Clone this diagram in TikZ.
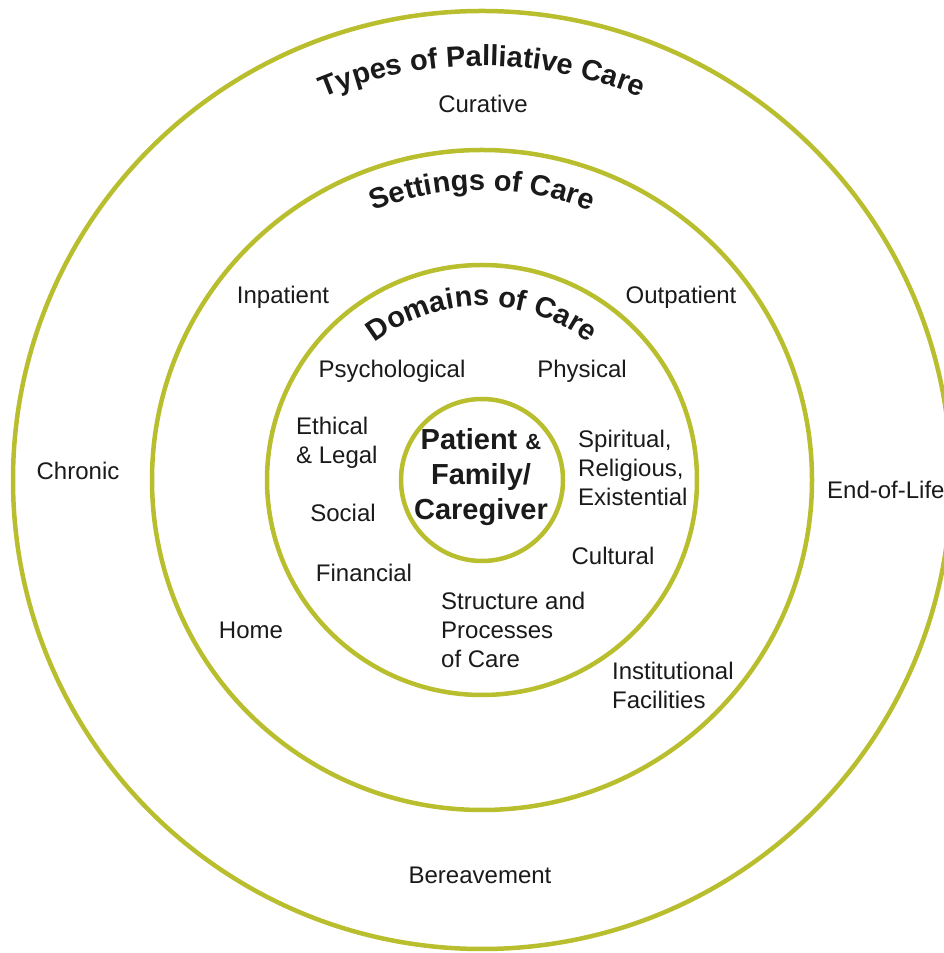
\documentclass[tikz,border=0pt]{standalone}
\usepackage{fontspec}
\setmainfont{Liberation Sans}
\usetikzlibrary{decorations.text}
\definecolor{ringcol}{RGB}{184,190,46}
\definecolor{ink}{RGB}{26,26,26}
\newcommand\mytitlefont{\bfseries\fontsize{29}{31}\selectfont}
\begin{document}
\begin{tikzpicture}[x=1pt,y=1pt,
  ringc/.style={circle, draw=ringcol, line width=4.5pt, inner sep=0pt},
  lbl/.style={text=ink, font=\fontsize{24}{29}\selectfont, inner sep=0pt},
  lbll/.style={lbl, align=left, anchor=west},
  lblc/.style={lbl, align=center},
  arctitle/.style={decorate, decoration={text along path, text align=center, text color=ink, text={|\mytitlefont|#1}}}
]
\useasboundingbox (0,0) rectangle (943,953);
\coordinate (c) at (482,473);
\node[ringc, minimum size=938pt] (outer) at (c) {};
\node[ringc, minimum size=660pt] (settings) at (c) {};
\node[ringc, minimum size=430pt] (domains) at (c) {};
\node[ringc, minimum size=162pt] (core) at (c) {};

% curved titles
\path[arctitle={Types of Palliative Care}] ([shift={(170:414)}]c) arc[start angle=170, end angle=10, radius=414];
\path[arctitle={Settings of Care}] ([shift={(170:290)}]c) arc[start angle=170, end angle=10, radius=290];
\path[arctitle={Domains of Care}] ([shift={(170:174)}]c) arc[start angle=170, end angle=10, radius=174];

% centre
\node[text=ink, align=center, inner sep=0pt, font=\bfseries\fontsize{29}{35}\selectfont] (pf) at (481,476)
  {Patient {\fontsize{22}{35}\selectfont\&}\\Family/\\Caregiver};

% outer ring labels
\node[lblc] (curative) at (483,849) {Curative};
\node[lblc] (chronic) at (78,482) {Chronic};
\node[lbll] (eol) at (827,463) {End-of-Life};
\node[lblc] (bereave) at (480,78) {Bereavement};

% settings ring labels
\node[lblc] (inpat) at (283,656) {Inpatient};
\node[lblc] (outpat) at (681,656) {Outpatient};
\node[lblc] (home) at (251,323) {Home};
\node[lbll] (inst) at (612,268) {Institutional\\Facilities};

% domains labels
\node[lblc] (psych) at (392,582) {Psychological};
\node[lblc] (phys) at (582,582) {Physical};
\node[lbll] (ethic) at (296,510) {Ethical\\\& Legal};
\node[lblc] (social) at (343,440) {Social};
\node[lblc] (fin) at (364,380) {Financial};
\node[lbll] (spirit) at (578,485) {Spiritual,\\Religious,\\Existential};
\node[lblc] (cult) at (613,397) {Cultural};
\node[lbll] (struct) at (441,323) {Structure and\\Processes\\of Care};
\end{tikzpicture}
\end{document}
